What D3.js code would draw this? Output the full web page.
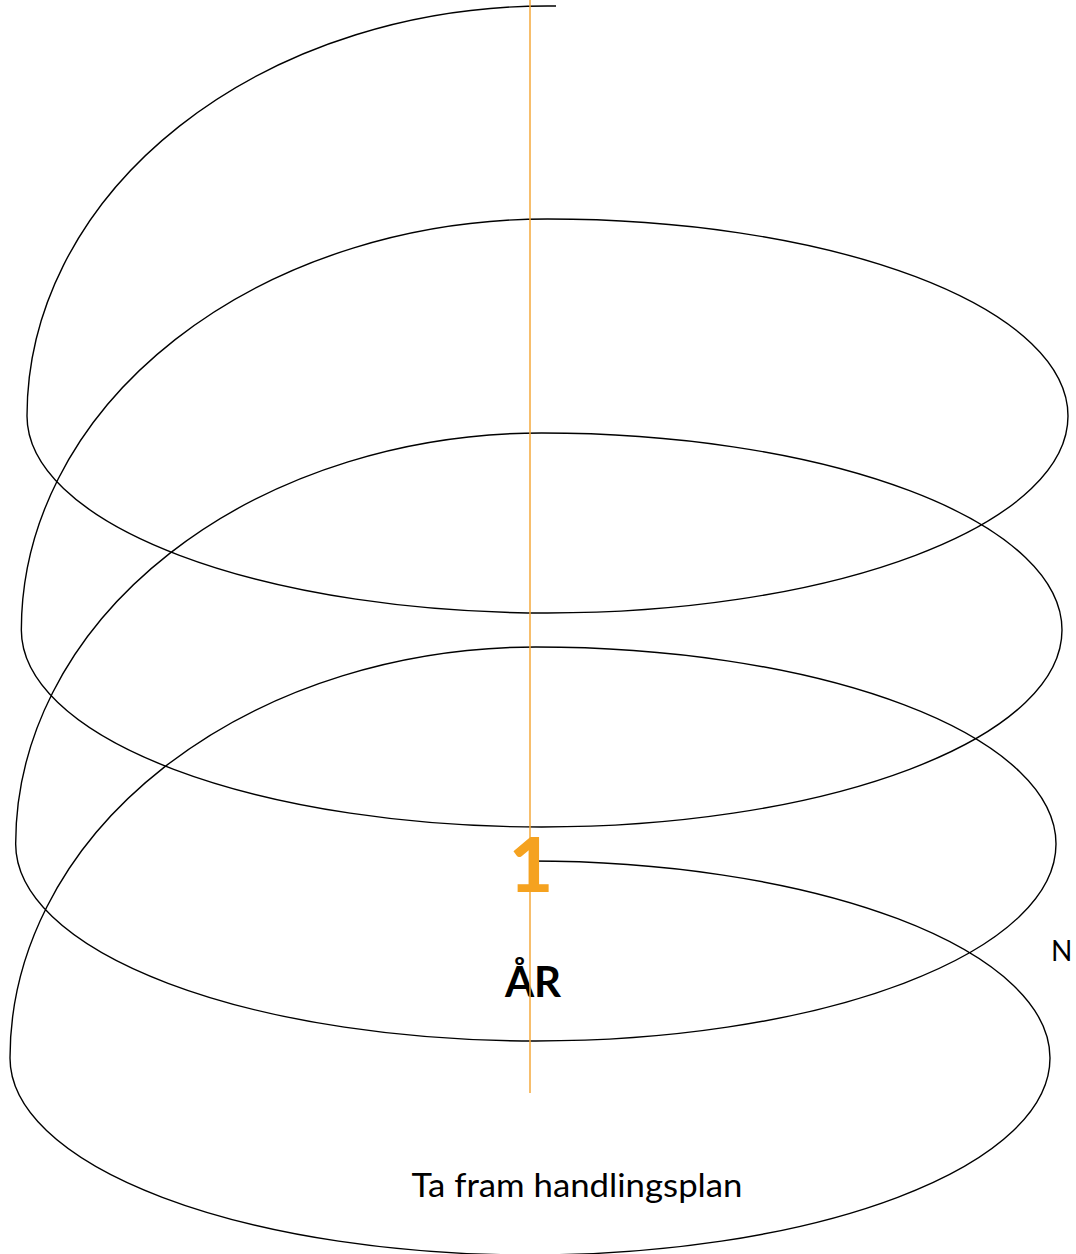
<!DOCTYPE html>
<html>
<head>
<meta charset="utf-8">
<script src="https://cdn.jsdelivr.net/npm/d3@7"></script>
<style>
  body { margin: 0; background: #fff; }
  svg { display: block; }
</style>
</head>
<body>
<div id="chart"></div>
<script>
// Spiral turns (one per loop of the year wheel)
const turns = [1, 2, 3, 4];
const turnNumber = "1";
const turnUnit = "ÅR";
const stepLabel = "Ta fram handlingsplan";
const sideLabel = "N";

const width = 1076, height = 1254;

const svg = d3.select("#chart")
  .append("svg")
  .attr("width", width)
  .attr("height", height);

// Scales: turn index -> ellipse geometry
const turnY = d3.scaleLinear().domain([1, 4]).range([416, 1058]);
const turnLeft = d3.scaleLinear().domain([1, 4]).range([27, 10]);
const turnRight = d3.scaleLinear().domain([1, 4]).range([1068, 1050]);
const ry = 197;
const startY = 6;
const startX = 556;
const axisX = 530;

// Build the spiral as elliptical arcs
let d = "";
turns.forEach(function(k) {
  const L = turnLeft(k), R = turnRight(k), cy = turnY(k);
  const cx = (L + R) / 2, rx = (R - L) / 2;
  let topX, topY;
  if (k === 1) {
    topX = cx; topY = startY;
    d += `M${startX},${startY}L${topX},${topY}`;
  } else {
    topX = (turnLeft(k - 1) + turnRight(k - 1)) / 2;
    topY = turnY(k - 1) - ry;
  }
  // tall quarter from previous top down to the left side
  d += `A${topX - L},${cy - topY} 0 0 0 ${L},${cy}`;
  d += `A${rx},${ry} 0 0 0 ${cx},${cy + ry}`;
  d += `A${rx},${ry} 0 0 0 ${R},${cy}`;
  d += `A${rx},${ry} 0 0 0 ${cx},${cy - ry}`;
});

svg.append("path")
  .attr("d", d)
  .attr("fill", "none")
  .attr("stroke", "#000")
  .attr("stroke-width", 1.4);

// Labels
svg.append("text")
  .attr("x", 533)
  .attr("y", 997)
  .attr("text-anchor", "middle")
  .attr("font-family", "Lato, 'Open Sans', sans-serif")
  .attr("font-weight", "bold")
  .attr("font-size", 42)
  .attr("fill", "#000")
  .text(turnUnit);

svg.append("text")
  .attr("x", 577)
  .attr("y", 1197)
  .attr("text-anchor", "middle")
  .attr("font-family", "Lato, 'Open Sans', sans-serif")
  .attr("font-size", 32)
  .attr("fill", "#000")
  .attr("textLength", 331)
  .attr("lengthAdjust", "spacingAndGlyphs")
  .text(stepLabel);

svg.append("text")
  .attr("x", 1051)
  .attr("y", 961)
  .attr("font-family", "Lato, 'Open Sans', sans-serif")
  .attr("font-size", 28)
  .attr("fill", "#000")
  .text(sideLabel);

// Vertical time axis
svg.append("line")
  .attr("x1", axisX).attr("x2", axisX)
  .attr("y1", 0).attr("y2", 1093)
  .attr("stroke", "#f4a93b")
  .attr("stroke-width", 1.5);

svg.append("text")
  .attr("x", 531)
  .attr("y", 892)
  .attr("text-anchor", "middle")
  .attr("font-family", "Lato, 'Open Sans', sans-serif")
  .attr("font-weight", "900")
  .attr("font-size", 76)
  .attr("fill", "#f5a21f")
  .text(turnNumber);
</script>
</body>
</html>
